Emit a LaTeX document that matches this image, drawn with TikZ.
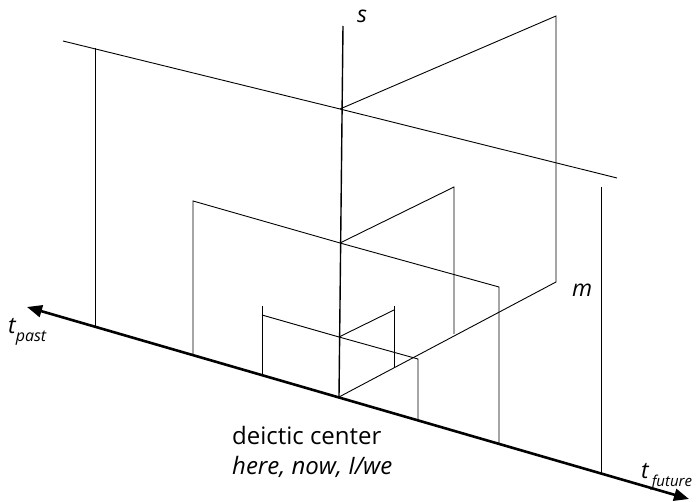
\documentclass[tikz,border=0pt]{standalone}
\usepackage{fontspec}
\setmainfont{Open Sans}
\usetikzlibrary{arrows.meta}

\begin{document}
\begin{tikzpicture}[
    x=1pt, y=-1pt,
    >={Triangle[length=15pt, width=12pt]},
    frame/.style={draw, line width=0.9pt},
    saxis/.style={draw, line width=1.4pt},
    taxis/.style={draw, line width=2.6pt},
    lbl/.style={inner sep=0pt, font=\fontsize{23}{27}\selectfont\itshape},
    caption/.style={inner sep=0pt, font=\fontsize{24}{28}\selectfont}
]
\useasboundingbox (0,0) rectangle (697,502);

% Points on the time axis and the s axis
\coordinate (tpast) at (27,307);
\coordinate (tfuture) at (689,499);
\coordinate (origin) at (339,397);
\coordinate (stop) at (343,26);

% Large frame
\coordinate (big_left) at (63,41);
\coordinate (big_mid) at (340,109);
\coordinate (big_right) at (617,178);
\coordinate (big_ltop) at (95,48);
\coordinate (big_lfoot) at (95,328);
\coordinate (big_rtop) at (601,187);
\coordinate (big_rfoot) at (601,473);
\coordinate (big_back) at (556,16);
\coordinate (big_backfoot) at (556,282);

% Middle frame
\coordinate (mid_corner) at (193,201);
\coordinate (mid_lfoot) at (193,355);
\coordinate (mid_mid) at (340,243);
\coordinate (mid_right) at (499,287);
\coordinate (mid_rfoot) at (499,444);
\coordinate (mid_back) at (454,187);
\coordinate (mid_backfoot) at (454,334);

% Small frame
\coordinate (sm_ltop) at (262,306);
\coordinate (sm_corner) at (262,315);
\coordinate (sm_lfoot) at (262,376);
\coordinate (sm_mid) at (339,337);
\coordinate (sm_right) at (418,359);
\coordinate (sm_rfoot) at (418,421);
\coordinate (sm_back) at (394,310);
\coordinate (sm_backtop) at (394,306);
\coordinate (sm_backfoot) at (394,367);

% Frames (bottom layer)
\draw[frame] (big_left) -- (big_mid) -- (big_right);
\draw[frame] (big_ltop) -- (big_lfoot);
\draw[frame] (big_rtop) -- (big_rfoot);
\draw[frame] (big_mid) -- (big_back) -- (big_backfoot) -- (origin);

\draw[frame] (mid_lfoot) -- (mid_corner) -- (mid_mid) -- (mid_right) -- (mid_rfoot);
\draw[frame] (mid_mid) -- (mid_back) -- (mid_backfoot);

\draw[frame] (sm_ltop) -- (sm_lfoot);
\draw[frame] (sm_corner) -- (sm_mid) -- (sm_right) -- (sm_rfoot);
\draw[frame] (sm_mid) -- (sm_back);
\draw[frame] (sm_backtop) -- (sm_backfoot);

% Axes on top
\draw[saxis] (origin) -- (stop);
\draw[taxis, <->] (tpast) -- (tfuture);

% Labels
\node[lbl, anchor=base west] (slabel) at (357,23) {s};
\node[lbl, anchor=base west] (mlabel) at (572,297) {m};
\node[lbl, anchor=base west] (pastlabel) at (8,334)
    {t\raisebox{-8pt}{\fontsize{16}{18}\selectfont past}};
\node[lbl, anchor=base west] (futurelabel) at (641,479)
    {t\kern3pt\raisebox{-8pt}{\fontsize{15}{18}\selectfont future}};
\node[caption, anchor=base west] (deictic) at (232,445) {deictic center};
\node[caption, anchor=base west, font=\fontsize{24}{28}\selectfont\itshape] (herenow) at (232,475) {here, now, I/we};

\end{tikzpicture}
\end{document}
